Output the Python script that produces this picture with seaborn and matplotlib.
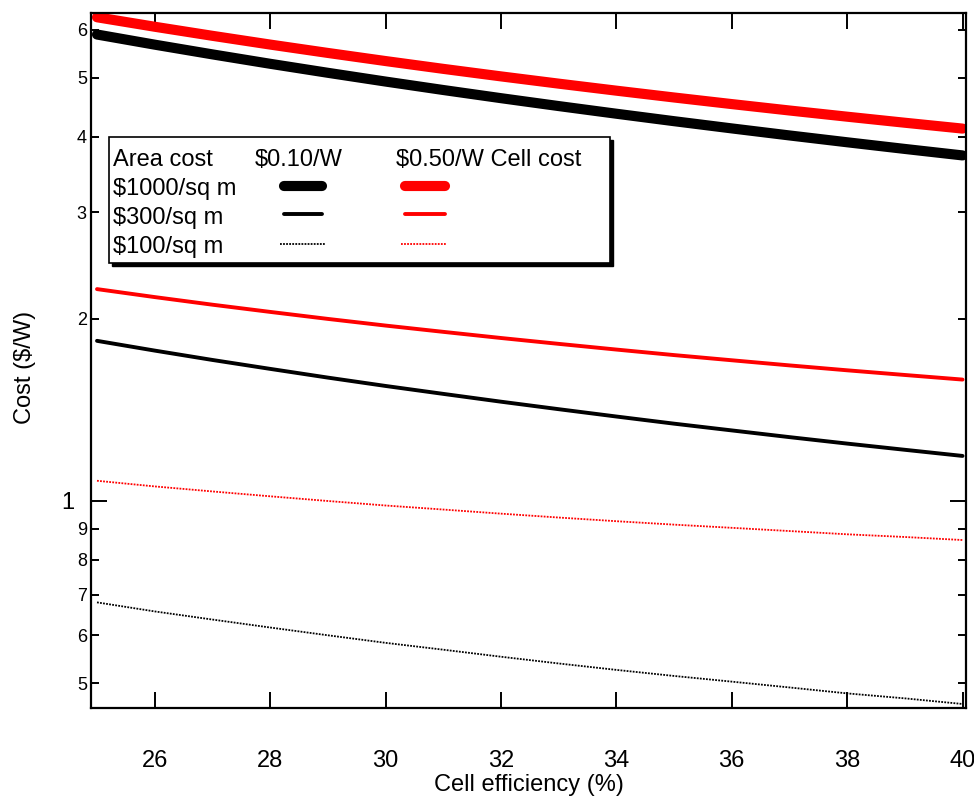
import matplotlib
matplotlib.use("Agg")
import matplotlib.pyplot as plt
import matplotlib.ticker as mticker
from matplotlib.patches import Rectangle
import numpy as np
import pandas as pd
import seaborn as sns

# ---- data ----
efficiency = [25, 26, 27, 28, 29, 30, 31, 32, 33, 34, 35, 36, 37, 38, 39, 40]
cost_1000_010 = [5.897, 5.674, 5.468, 5.276, 5.098, 4.931, 4.775, 4.629, 4.492, 4.363, 4.241, 4.126, 4.017, 3.914, 3.816, 3.723]
cost_1000_050 = [6.297, 6.074, 5.868, 5.676, 5.498, 5.331, 5.175, 5.029, 4.892, 4.763, 4.641, 4.526, 4.417, 4.314, 4.216, 4.123]
cost_300_010 = [1.839, 1.772, 1.710, 1.653, 1.599, 1.549, 1.503, 1.459, 1.418, 1.379, 1.342, 1.308, 1.275, 1.244, 1.215, 1.187]
cost_300_050 = [2.239, 2.172, 2.110, 2.053, 1.999, 1.949, 1.903, 1.859, 1.818, 1.779, 1.742, 1.708, 1.675, 1.644, 1.615, 1.587]
cost_100_010 = [0.680, 0.657, 0.637, 0.618, 0.600, 0.583, 0.568, 0.553, 0.539, 0.526, 0.514, 0.503, 0.492, 0.481, 0.472, 0.462]
cost_100_050 = [1.080, 1.057, 1.037, 1.018, 1.000, 0.983, 0.968, 0.953, 0.939, 0.926, 0.914, 0.903, 0.892, 0.881, 0.872, 0.862]

area_labels = ["$1000/sq m", "$300/sq m", "$100/sq m"]
cell_labels = ["$0.10/W", "$0.50/W Cell cost"]
header_label = "Area cost"
xticks = [26, 28, 30, 32, 34, 36, 38, 40]
ymajor = [1]
yminor = [0.5, 0.6, 0.7, 0.8, 0.9, 2, 3, 4, 5, 6]
yminor_labels = ["5", "6", "7", "8", "9", "2", "3", "4", "5", "6"]

series = [
    (cost_1000_010, "black", 7.3, "-"),
    (cost_1000_050, "#ff0000", 7.3, "-"),
    (cost_300_010, "black", 2.8, "-"),
    (cost_300_050, "#ff0000", 2.8, "-"),
    (cost_100_010, "black", 1.3, (0, (1, 0.7))),
    (cost_100_050, "#ff0000", 1.3, (0, (1, 0.7))),
]

sns.set_style("white")
plt.rcParams["font.family"] = ["Liberation Sans", "DejaVu Sans"]
plt.rcParams["text.color"] = "black"
plt.rcParams["axes.labelcolor"] = "black"
plt.rcParams["xtick.color"] = "black"
plt.rcParams["ytick.color"] = "black"

fig = plt.figure(figsize=(9.74, 7.98), dpi=100)
ax = fig.add_axes([91 / 974, 90 / 798, 875 / 974, 695 / 798])

for vals, col, lw, ls in series:
    df = pd.DataFrame({"eff": efficiency, "cost": vals})
    sns.lineplot(data=df, x="eff", y="cost", ax=ax, color=col, lw=lw,
                 linestyle=ls, solid_capstyle="round", dash_capstyle="butt")

ax.set_yscale("log")
ax.set_xlim(24.896, 40.06)
ax.set_ylim(0.455, 6.4)

ax.xaxis.set_major_locator(mticker.FixedLocator(xticks))
ax.xaxis.set_minor_locator(mticker.NullLocator())
ax.xaxis.set_major_formatter(mticker.FixedFormatter([str(t) for t in xticks]))
ax.yaxis.set_major_locator(mticker.FixedLocator(ymajor))
ax.yaxis.set_major_formatter(mticker.FixedFormatter(["1"]))
ax.yaxis.set_minor_locator(mticker.FixedLocator(yminor))
ax.yaxis.set_minor_formatter(mticker.FixedFormatter(yminor_labels))

for sp in ax.spines.values():
    sp.set_linewidth(1.6)
    sp.set_color("black")

ax.tick_params(axis="x", which="major", direction="in", length=11.5, width=1.4,
               top=True, bottom=True, labelsize=17, pad=30, color="black", labelcolor="black")
ax.tick_params(axis="y", which="major", direction="in", length=11.5, width=1.4,
               left=True, right=True, labelsize=17, pad=12, color="black", labelcolor="black")
ax.tick_params(axis="y", which="minor", direction="in", length=6, width=1.4,
               left=True, right=True, labelsize=13, pad=3, color="black", labelcolor="black")

ax.set_xlabel("Cell efficiency (%)", fontsize=17, color="black")
ax.set_ylabel("Cost ($/W)", fontsize=17, color="black")
ax.xaxis.set_label_coords(0.5, -0.095)
ax.yaxis.set_label_coords(-0.063, 0.49)
ax.grid(False)

# ---- custom table-style legend ----
bx0, bx1, by0, by1 = 0.0206, 0.5927, 0.6403, 0.8216
dx, dy = 3 / 875, 3 / 695
ax.add_patch(Rectangle((bx0 + dx, by0 - dy), bx1 - bx0, by1 - by0, transform=ax.transAxes,
                       facecolor="black", edgecolor="black", lw=1.0, zorder=5, clip_on=False))
ax.add_patch(Rectangle((bx0, by0), bx1 - bx0, by1 - by0, transform=ax.transAxes,
                       facecolor="white", edgecolor="black", lw=1.2, zorder=6, clip_on=False))

txt_kw = dict(transform=ax.transAxes, fontsize=17, va="baseline", ha="left", zorder=7, color="black")
ax.text(0.0252, 0.7799, header_label, **txt_kw)
ax.text(0.1876, 0.7799, cell_labels[0], **txt_kw)
ax.text(0.349, 0.7799, cell_labels[1], **txt_kw)
row_base = [0.7381, 0.6964, 0.6547]
row_line = [0.7511, 0.7108, 0.6676]
for i, lab in enumerate(area_labels):
    ax.text(0.0252, row_base[i], lab, **txt_kw)
for i, (vals, col, lw, ls) in enumerate(series):
    r = i // 2
    xs = [0.2200, 0.2640] if col == "black" else [0.3590, 0.4040]
    if lw < 2:
        xs = [0.2162, 0.2677] if col == "black" else [0.3547, 0.4073]
    ax.plot(xs, [row_line[r], row_line[r]], transform=ax.transAxes, color=col, lw=lw,
            linestyle=ls, solid_capstyle="round", dash_capstyle="butt", zorder=8, clip_on=False)

fig.savefig("out.png", dpi=100)
